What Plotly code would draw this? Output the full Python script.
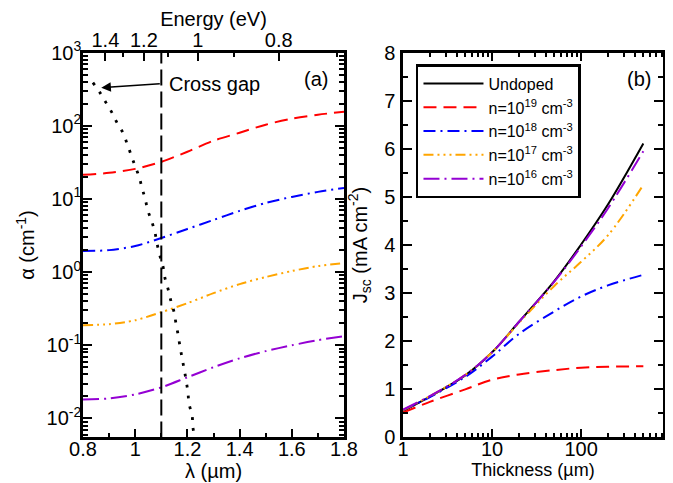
import plotly.graph_objects as go

# ---------------- Panel (a): absorption vs wavelength ----------------
lam = [0.8, 0.9, 1.0, 1.1, 1.2, 1.3, 1.4, 1.5, 1.6, 1.7, 1.8]
log_a_19 = [1.329, 1.356, 1.41, 1.507, 1.644, 1.795, 1.904, 2.014, 2.096, 2.15, 2.19]
log_a_18 = [0.288, 0.30, 0.356, 0.466, 0.589, 0.712, 0.836, 0.945, 1.027, 1.096, 1.15]
log_a_17 = [-0.726, -0.712, -0.658, -0.548, -0.425, -0.288, -0.164, -0.068, 0.014, 0.082, 0.123]
log_a_16 = [-1.74, -1.726, -1.671, -1.575, -1.438, -1.30, -1.178, -1.08, -1.0, -0.93, -0.877]

cross_lam = [0.838, 0.865, 0.888, 0.911, 0.930, 0.953, 0.969, 0.984, 0.999, 1.015, 1.026,
             1.038, 1.049, 1.064, 1.076, 1.084, 1.095, 1.107, 1.114, 1.126, 1.137, 1.149,
             1.156, 1.164, 1.172, 1.179, 1.187, 1.195, 1.202, 1.206, 1.218, 1.221, 1.229]
cross_log_a = [2.589, 2.452, 2.315, 2.178, 2.041, 1.904, 1.753, 1.603, 1.452, 1.301, 1.151,
               1.0, 0.836, 0.685, 0.534, 0.384, 0.219, 0.068, -0.082, -0.233, -0.397, -0.548,
               -0.699, -0.849, -1.027, -1.164, -1.315, -1.479, -1.644, -1.795, -1.959, -2.123, -2.26]

gap_lam = 1.1
energy_ticks = [1.4, 1.2, 1.0, 0.8]
energy_labels = ["1.4", "1.2", "1", "0.8"]
energy_minor = [1.3, 1.1, 0.9, 0.7]

# ---------------- Panel (b): Jsc vs thickness ----------------
thick = [1, 2, 5, 10, 20, 50, 100, 200, 500]
j_undoped = [0.55, 0.85, 1.29, 1.77, 2.40, 3.25, 4.01, 4.84, 6.11]
j_19 = [0.52, 0.74, 1.0, 1.2, 1.31, 1.40, 1.45, 1.47, 1.48]
j_18 = [0.57, 0.84, 1.26, 1.68, 2.15, 2.62, 2.93, 3.16, 3.38]
j_17 = [0.57, 0.86, 1.30, 1.77, 2.38, 3.15, 3.65, 4.2, 5.25]
j_16 = [0.58, 0.86, 1.30, 1.77, 2.40, 3.24, 3.97, 4.76, 5.95]

names = ["Undoped", "n=10<sup>19</sup> cm<sup>-3</sup>", "n=10<sup>18</sup> cm<sup>-3</sup>",
         "n=10<sup>17</sup> cm<sup>-3</sup>", "n=10<sup>16</sup> cm<sup>-3</sup>"]
colors = ["black", "#FF0000", "#0000FF", "#FFA500", "#9400D3"]
dashes = ["solid", "13px,7px", "12px,5px,2px,5px",
          "10px,4px,2px,4px,2px,4px,2px,4px", "16px,5px,2px,5px"]

FONT = "Liberation Sans, Arial, Helvetica, sans-serif"
FS = 20

fig = go.Figure()

for lv, c, d in zip([log_a_19, log_a_18, log_a_17, log_a_16], colors[1:], dashes[1:]):
    fig.add_trace(go.Scatter(x=lam, y=[10 ** v for v in lv], mode="lines",
                             line=dict(color=c, width=2, dash=d, shape="spline", smoothing=0.8),
                             showlegend=False, xaxis="x", yaxis="y"))

fig.add_trace(go.Scatter(x=cross_lam, y=[10 ** v for v in cross_log_a], mode="lines",
                         line=dict(color="black", width=2.8, dash="2.8px,8.2px", shape="spline"),
                         showlegend=False, xaxis="x", yaxis="y"))

fig.add_trace(go.Scatter(x=[gap_lam, gap_lam], y=[10 ** -2.26, 1000], mode="lines",
                         line=dict(color="black", width=2, dash="16px,6px"),
                         showlegend=False, xaxis="x", yaxis="y"))

# invisible trace to carry the energy axis
fig.add_trace(go.Scatter(x=[0.8, 1.8], y=[1, 1], mode="lines", line=dict(width=0),
                         opacity=0, showlegend=False, hoverinfo="skip", xaxis="x3", yaxis="y"))

jsets = [j_undoped, j_19, j_18, j_17, j_16]
for jv, n, c, d in zip(jsets, names, colors, dashes):
    fig.add_trace(go.Scatter(x=thick, y=jv, mode="lines", name=n,
                             line=dict(color=c, width=2, dash=d, shape="spline"),
                             xaxis="x2", yaxis="y2"))

tickfont = dict(family=FONT, size=FS, color="black")
common = dict(showline=True, linecolor="black", linewidth=2.5, ticks="inside",
              tickcolor="black", tickwidth=2, ticklen=9, showgrid=False, zeroline=False,
              tickfont=tickfont, automargin=False)
minor_style = dict(ticks="inside", ticklen=5, tickwidth=2, tickcolor="black")

log_minor_a = [k * 10 ** e for e in range(-3, 3) for k in range(2, 10)]
log_minor_b = [k * 10 ** e for e in range(0, 3) for k in range(2, 10)]

# page body adds an 8px offset; the figure is sized to fit the window exactly
yd = [0.0958, 0.9063]
fig.update_layout(
    width=665, height=475, margin=dict(l=0, r=0, t=0, b=0),
    paper_bgcolor="white", plot_bgcolor="white",
    font=dict(family=FONT, color="black"),
    xaxis=dict(domain=[0.1128, 0.5053], range=[0.8, 1.8], mirror=True,
               tickmode="array", tickvals=[0.8, 1.0, 1.2, 1.4, 1.6, 1.8],
               ticktext=["0.8", "1", "1.2", "1.4", "1.6", "1.8"],
               minor=dict(tickmode="array", tickvals=[0.9, 1.1, 1.3, 1.5, 1.7], **minor_style),
               ticklabelstandoff=-8,
               title=dict(text="λ (µm)", font=dict(family=FONT, size=FS), standoff=0),
               anchor="y", **common),
    xaxis3=dict(overlaying="x", side="top", range=[0.8, 1.8], anchor="y",
                tickmode="array", tickvals=[1.23984 / e for e in energy_ticks],
                ticktext=energy_labels,
                minor=dict(tickmode="array", tickvals=[1.23984 / e for e in energy_minor],
                           **minor_style),
                ticklabelstandoff=-5,
                title=dict(text="Energy (eV)", font=dict(family=FONT, size=FS), standoff=5),
                **common),
    yaxis=dict(domain=yd, type="log", range=[-2.26, 3], mirror="ticks",
               tickmode="array", tickvals=[0.01, 0.1, 1, 10, 100, 1000],
               ticktext=["10<sup>-2</sup>", "10<sup>-1</sup>", "10<sup>0</sup>",
                         "10<sup>1</sup>", "10<sup>2</sup>", "10<sup>3</sup>"],
               minor=dict(tickmode="array", tickvals=log_minor_a, **minor_style),
               ticklabelstandoff=-5,
               title=dict(text="α (cm<sup>-1</sup>)", font=dict(family=FONT, size=FS), standoff=7),
               anchor="x", **common),
    xaxis2=dict(domain=[0.5940, 0.9850], type="log", range=[0, 2.92], mirror="ticks",
                tickmode="array", tickvals=[1, 10, 100], ticktext=["1", "10", "100"],
                minor=dict(tickmode="array", tickvals=log_minor_b, **minor_style),
                ticklabelstandoff=-8,
                title=dict(text="Thickness (µm)", font=dict(family=FONT, size=18), standoff=2),
                anchor="y2", **common),
    yaxis2=dict(domain=yd, range=[0, 8], mirror="ticks", tickmode="array",
                tickvals=list(range(0, 9)), ticktext=[str(v) for v in range(0, 9)],
                minor=dict(tickmode="array", tickvals=[0.5 + v for v in range(8)], **minor_style),
                ticklabelstandoff=1,
                title=dict(text="J<sub>sc</sub> (mA cm<sup>-2</sup>)",
                           font=dict(family=FONT, size=FS), standoff=12),
                anchor="x2", **common),
    legend=dict(x=0.6135, y=0.882, xanchor="left", yanchor="top",
                bordercolor="black", borderwidth=2.5, bgcolor="white", itemwidth=60,
                font=dict(family=FONT, size=16, color="black"), tracegroupgap=0),
)

fig.add_annotation(x=0.87, y=2.52, ax=1.1, ay=2.575, xref="x", yref="y", axref="x", ayref="y",
                   text="", showarrow=True, arrowhead=2, arrowsize=1.2, arrowwidth=1.6,
                   arrowcolor="black")
fig.add_annotation(x=1.12, y=2.575, xref="x", yref="y", text="Cross gap", showarrow=False,
                   xanchor="left", yanchor="middle", font=dict(family=FONT, size=FS))
fig.add_annotation(x=0.4842, y=0.8505, xref="paper", yref="paper", text="(a)", showarrow=False,
                   xanchor="right", yanchor="middle", font=dict(family=FONT, size=FS))
fig.add_annotation(x=0.970, y=0.8505, xref="paper", yref="paper", text="(b)", showarrow=False,
                   xanchor="right", yanchor="middle", font=dict(family=FONT, size=FS))

fig.write_html("out.html")
